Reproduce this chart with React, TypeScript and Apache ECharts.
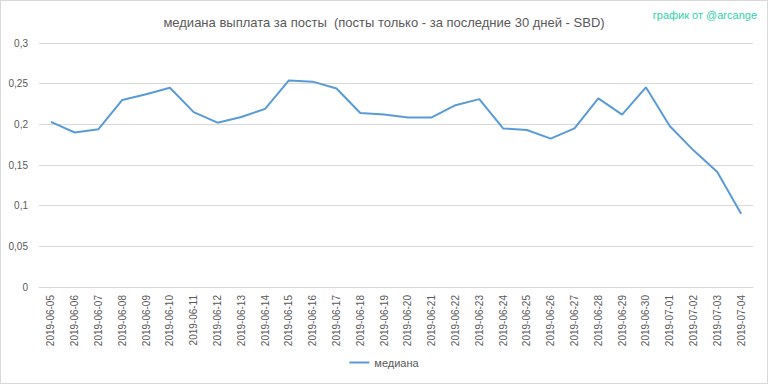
import React, { useEffect, useRef } from "react";
import * as echarts from "echarts";

const categories = [
  "2019-06-05","2019-06-06","2019-06-07","2019-06-08","2019-06-09","2019-06-10",
  "2019-06-11","2019-06-12","2019-06-13","2019-06-14","2019-06-15","2019-06-16",
  "2019-06-17","2019-06-18","2019-06-19","2019-06-20","2019-06-21","2019-06-22",
  "2019-06-23","2019-06-24","2019-06-25","2019-06-26","2019-06-27","2019-06-28",
  "2019-06-29","2019-06-30","2019-07-01","2019-07-02","2019-07-03","2019-07-04",
];

const medianValues = [
  0.203, 0.19, 0.194, 0.23, 0.237, 0.245,
  0.215, 0.202, 0.209, 0.219, 0.254, 0.2525,
  0.244, 0.214, 0.212, 0.2085, 0.2085, 0.2235,
  0.231, 0.195, 0.193, 0.1825, 0.195, 0.232,
  0.212, 0.2455, 0.198, 0.168, 0.1415, 0.09,
];

const seriesName = "медиана";
const titleText = "медиана выплата за посты  (посты только - за последние 30 дней - SBD)";
const creditText = "график от @arcange";

export default function App() {
  const ref = useRef<HTMLDivElement>(null);
  useEffect(() => {
    if (!ref.current) return;
    const chart = echarts.init(ref.current, null, { renderer: "svg" });
    const font = "Liberation Sans";
    chart.setOption({
      animation: false,
      backgroundColor: "#ffffff",
      title: {
        text: titleText,
        left: "center",
        top: 10,
        textStyle: { fontFamily: font, fontSize: 13, fontWeight: "normal", color: "#595959" },
      },
      graphic: [
        {
          type: "text",
          right: 10,
          top: 8,
          style: { text: creditText, fontFamily: font, fontSize: 11, fill: "#2fd1a8" },
        },
      ],
      legend: {
        bottom: 10,
        left: "center",
        icon: "path://M0,0 L20,0 L20,2 L0,2 Z",
        itemWidth: 20,
        itemHeight: 2,
        itemGap: 6,
        textStyle: { fontFamily: font, fontSize: 11, color: "#595959" },
        data: [seriesName],
      },
      grid: { left: 38, right: 14, top: 42, bottom: 96 },
      xAxis: {
        type: "category",
        data: categories,
        boundaryGap: true,
        axisLine: { show: true, lineStyle: { color: "#d9d9d9" } },
        axisTick: { show: false },
        axisLabel: {
          rotate: 90,
          interval: 0,
          margin: 8,
          fontFamily: font,
          fontSize: 10,
          color: "#595959",
        },
      },
      yAxis: {
        type: "value",
        min: 0,
        max: 0.3,
        interval: 0.05,
        axisLine: { show: false },
        axisTick: { show: false },
        splitLine: { lineStyle: { color: "#d9d9d9", width: 1 } },
        axisLabel: {
          margin: 11,
          fontFamily: font,
          fontSize: 10,
          color: "#595959",
          formatter: (v: number) => String(Math.round(v * 100) / 100).replace(".", ","),
        },
      },
      series: [
        {
          name: seriesName,
          type: "line",
          data: medianValues,
          symbol: "none",
          lineStyle: { color: "#5b9bd5", width: 2 },
          itemStyle: { color: "#5b9bd5" },
        },
      ],
    });
    return () => chart.dispose();
  }, []);
  return (
    <div
      ref={ref}
      style={{
        position: "fixed",
        left: 0,
        top: 0,
        width: 768,
        height: 384,
        border: "1px solid #d9d9d9",
        boxSizing: "border-box",
      }}
    />
  );
}
